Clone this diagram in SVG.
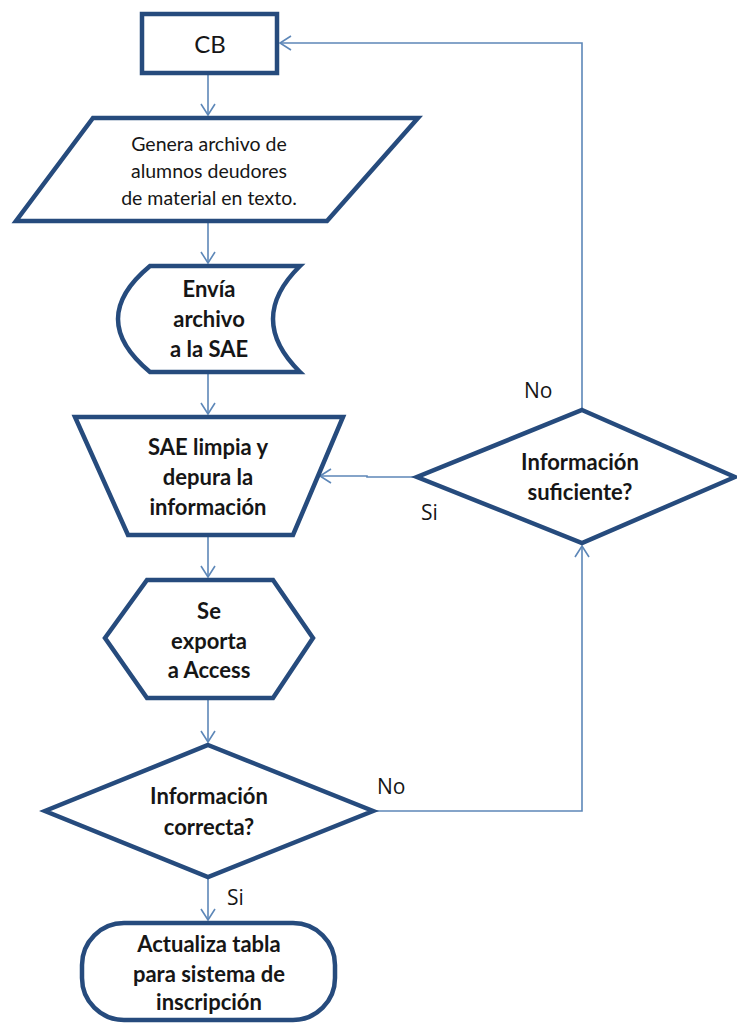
<svg xmlns="http://www.w3.org/2000/svg" width="737" height="1023" viewBox="0 0 737 1023">
  <style>
    .shape { fill: #ffffff; stroke: #264b7d; stroke-width: 4.5; stroke-linejoin: miter; }
    .conn { fill: none; stroke: #5d87b8; stroke-width: 1.6; }
    .t { font-family: Lato, "Open Sans", "Liberation Sans", sans-serif; fill: #161616; text-anchor: middle; }
    .b { font-weight: bold; font-size: 22px; }
    .r { font-size: 19.5px; }
    .lbl { font-family: "Open Sans", "Liberation Sans", sans-serif; fill: #161616; font-size: 21px; }
  </style>
  <defs>
    <marker id="arrow" markerWidth="14" markerHeight="16" refX="12" refY="8" orient="auto" markerUnits="userSpaceOnUse">
      <path d="M1,1 L12,8 L1,15" fill="none" stroke="#5d87b8" stroke-width="1.6"/>
    </marker>
  </defs>
  <rect width="737" height="1023" fill="#ffffff"/>

  <!-- connectors -->
  <g id="connectors">
    <line class="conn" x1="208" y1="75" x2="208" y2="115" marker-end="url(#arrow)"/>
    <line class="conn" x1="208" y1="223" x2="208" y2="263" marker-end="url(#arrow)"/>
    <line class="conn" x1="208" y1="374" x2="208" y2="414" marker-end="url(#arrow)"/>
    <line class="conn" x1="208" y1="537" x2="208" y2="577" marker-end="url(#arrow)"/>
    <line class="conn" x1="208" y1="700" x2="208" y2="742" marker-end="url(#arrow)"/>
    <line class="conn" x1="208" y1="879" x2="208" y2="920" marker-end="url(#arrow)"/>
    <polyline class="conn" points="417,477 367,477 367,476 320,476" marker-end="url(#arrow)"/>
    <polyline class="conn" points="582,410 582,43 280,43" marker-end="url(#arrow)"/>
    <polyline class="conn" points="375,811 582,811 582,546" marker-end="url(#arrow)"/>
  </g>

  <!-- CB -->
  <g id="node-cb">
    <rect class="shape" x="142" y="14" width="135" height="59"/>
    <text class="t" x="210" y="53" font-size="24">CB</text>
  </g>

  <!-- Genera archivo -->
  <g id="node-genera">
    <polygon class="shape" points="93,118 418,118 327,221 16,221"/>
    <text class="t r" x="209" y="151">Genera archivo de</text>
    <text class="t r" x="209" y="178">alumnos deudores</text>
    <text class="t r" x="209" y="205">de material en texto.</text>
  </g>

  <!-- Envia archivo -->
  <g id="node-envia">
    <path class="shape" d="M150,266 L300,266 Q246,319 300,372 L150,372 Q86,319 150,266 Z"/>
    <text class="t b" x="209" y="297">Envía</text>
    <text class="t b" x="209" y="327">archivo</text>
    <text class="t b" x="209" y="357">a la SAE</text>
  </g>

  <!-- SAE limpia -->
  <g id="node-sae">
    <polygon class="shape" points="75,417 343,417 293,535 128,535"/>
    <text class="t b" x="208" y="455">SAE limpia y</text>
    <text class="t b" x="208" y="485">depura la</text>
    <text class="t b" x="208" y="515">información</text>
  </g>

  <!-- Informacion suficiente -->
  <g id="node-suficiente">
    <polygon class="shape" points="582,410 735,477 582,543 417,477"/>
    <text class="t b" x="580" y="470">Información</text>
    <text class="t b" x="580" y="500">suficiente?</text>
  </g>

  <!-- Se exporta -->
  <g id="node-exporta">
    <polygon class="shape" points="147,580 273,580 313,638 273,698 147,698 105,638"/>
    <text class="t b" x="209" y="619">Se</text>
    <text class="t b" x="209" y="649">exporta</text>
    <text class="t b" x="209" y="678">a Access</text>
  </g>

  <!-- Informacion correcta -->
  <g id="node-correcta">
    <polygon class="shape" points="208,745 373,811 208,877 45,811"/>
    <text class="t b" x="209" y="804">Información</text>
    <text class="t b" x="209" y="835">correcta?</text>
  </g>

  <!-- Actualiza tabla -->
  <g id="node-actualiza">
    <rect class="shape" x="82" y="923" width="253" height="97" rx="42" ry="42"/>
    <text class="t b" x="209" y="952">Actualiza tabla</text>
    <text class="t b" x="209" y="982">para sistema de</text>
    <text class="t b" x="209" y="1010">inscripción</text>
  </g>

  <!-- branch labels -->
  <g id="labels">
    <text class="lbl" x="524" y="398">No</text>
    <text class="lbl" x="421" y="520">Si</text>
    <text class="lbl" x="377" y="794">No</text>
    <text class="lbl" x="227" y="905">Si</text>
  </g>
</svg>
